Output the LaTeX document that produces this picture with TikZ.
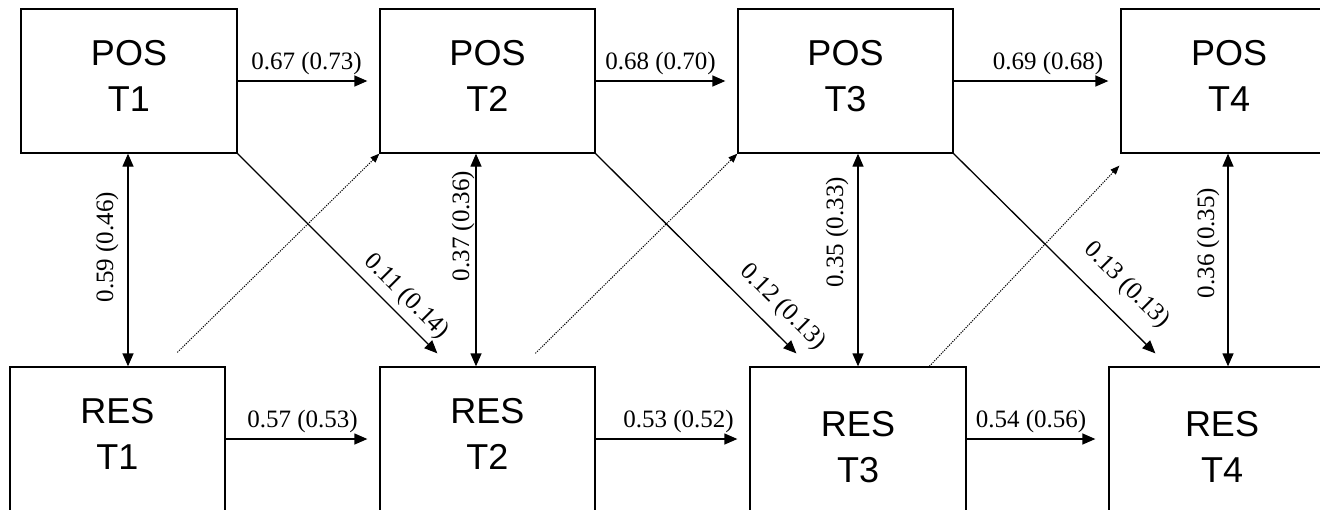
\documentclass[tikz,border=0pt]{standalone}
\usepackage{fontspec}
\setmainfont{Liberation Serif}
\newfontfamily\boxfont{Liberation Sans}
\usetikzlibrary{arrows.meta,calc}
\begin{document}
\begin{tikzpicture}[x=1pt,y=-1pt,
  box/.style={draw,line width=1.3pt,inner sep=0pt,minimum height=144pt,align=center,
    font={\boxfont\fontsize{36}{46}\selectfont},text depth=10pt},
  arr/.style={line width=1.3pt,-{Triangle[length=13pt,width=11pt]}},
  darr/.style={line width=1.3pt,{Triangle[length=13pt,width=11pt]}-{Triangle[length=13pt,width=11pt]}},
  dotarr/.style={line width=1pt,dash pattern=on 1.2pt off 1.2pt,-{Triangle[length=9pt,width=7pt]}},
  lab/.style={font={\fontsize{25}{30}\selectfont},inner sep=0pt},
]
\useasboundingbox (0,0) rectangle (1320,509);
\fill[white] (0,0) rectangle (1320,509);

\node[box,minimum width=216pt] (pos1) at (129,81) {POS\\T1};
\node[box,minimum width=215pt] (pos2) at (487.5,81) {POS\\T2};
\node[box,minimum width=215pt] (pos3) at (845.5,81) {POS\\T3};
\node[box,minimum width=216pt] (pos4) at (1229,81) {POS\\T4};
\node[box,minimum width=215pt] (res1) at (117.5,439) {RES\\T1};
\node[box,minimum width=215pt] (res2) at (487.5,439) {RES\\T2};
\node[box,minimum width=216pt,minimum height=160pt,text depth=0pt] (res3) at (858,447) {RES\\T3};
\node[box,minimum width=226pt,minimum height=160pt,text depth=0pt] (res4) at (1222,447) {RES\\T4};

% horizontal
\draw[arr] (pos1.east) -- node[lab,above=6pt,xshift=4pt]{0.67 (0.73)} ($(pos2.west)+(-12,0)$);
\draw[arr] (pos2.east) -- node[lab,above=6pt]{0.68 (0.70)} ($(pos3.west)+(-12,0)$);
\draw[arr] (pos3.east) -- node[lab,above=6pt,xshift=17pt]{0.69 (0.68)} ($(pos4.west)+(-12,0)$);
\draw[arr] (res1.east) -- node[lab,above=6pt,xshift=6pt]{0.57 (0.53)} ($(res2.west)+(-12,0)$);
\draw[arr] (res2.east) -- node[lab,above=6pt,xshift=12pt]{0.53 (0.52)} ($(res2.east -| res3.west)+(-12,0)$);
\draw[arr] (res3.east |- res2.east) -- node[lab,above=6pt]{0.54 (0.56)} ($(res2.east -| res4.west)+(-13,0)$);

% vertical
\coordinate (a1) at ($(pos1.south)+(-1,0)$);
\draw[darr] (a1) -- node[lab,pos=0.44,xshift=-21pt,rotate=90]{0.59 (0.46)} (a1 |- res1.north);
\coordinate (a2) at ($(pos2.south)+(-11.5,0)$);
\draw[darr] (a2) -- node[lab,pos=0.34,xshift=-13pt,rotate=90]{0.37 (0.36)} (a2 |- res2.north);
\draw[darr] (res3.north |- pos3.south) -- node[lab,pos=0.37,xshift=-21pt,rotate=90]{0.35 (0.33)} (res3.north);
\coordinate (a4) at ($(pos4.south)+(-1,0)$);
\draw[darr] (a4) -- node[lab,pos=0.42,xshift=-20pt,rotate=90]{0.36 (0.35)} (a4 |- res4.north);

% diagonal solid
\draw[arr] (pos1.south east) -- node[lab,pos=0.78,sloped,above=6pt]{0.11 (0.14)} ($(res2.north west)+(58,-13)$);
\draw[arr] (pos2.south east) -- node[lab,pos=0.85,sloped,above=11pt]{0.12 (0.13)} ($(res3.north west)+(47,-13)$);
\draw[arr] (pos3.south east) -- node[lab,pos=0.76,sloped,above=16pt]{0.13 (0.13)} ($(res4.north west)+(47,-13)$);

% diagonal dotted
\draw[dotarr] ($(res1.north west)+(168,-14)$) -- (pos2.south west);
\draw[dotarr] ($(res2.north west)+(156,-13)$) -- (pos3.south west);
\draw[dotarr] ($(res3.north west)+(180,0)$) -- ($(pos4.south west)+(-1,12)$);
\end{tikzpicture}
\end{document}
